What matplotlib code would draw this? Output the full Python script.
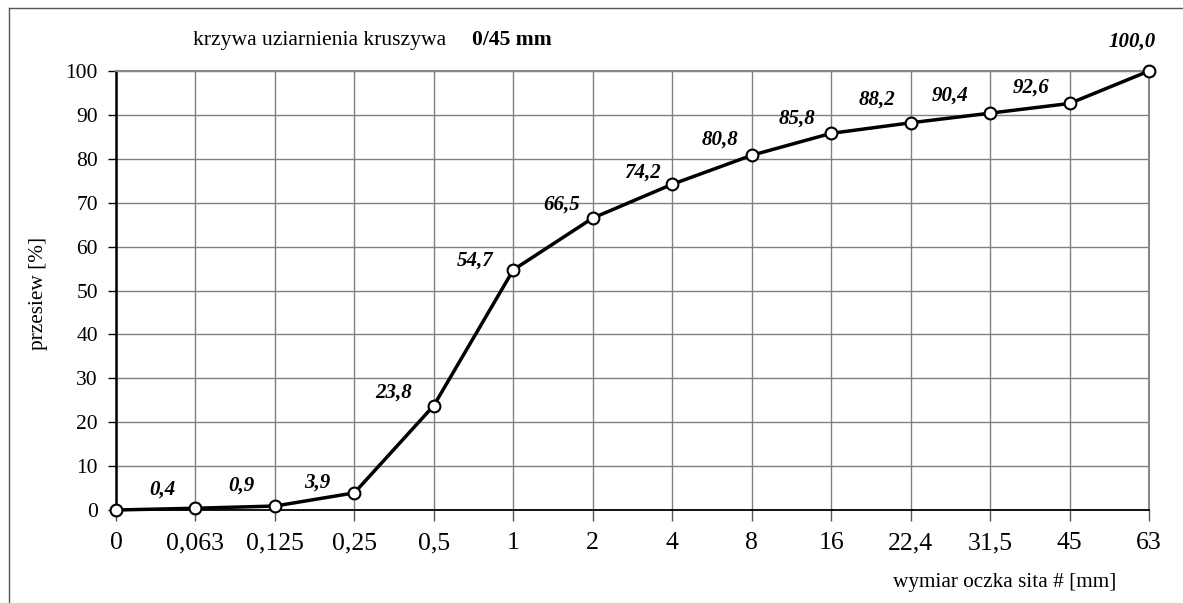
import numpy as np
import matplotlib
matplotlib.use('Agg')
import matplotlib.pyplot as plt
from matplotlib.lines import Line2D

# sieve sizes (categorical axis) and passing percentage
sieves = ['0', '0,063', '0,125', '0,25', '0,5', '1', '2', '4', '8', '16', '22,4', '31,5', '45', '63']
passing = [0.0, 0.4, 0.9, 3.9, 23.8, 54.7, 66.5, 74.2, 80.8, 85.8, 88.2, 90.4, 92.6, 100.0]
labels = ['', '0,4', '0,9', '3,9', '23,8', '54,7', '66,5', '74,2', '80,8', '85,8', '88,2', '90,4', '92,6', '100,0']
# label offsets in pixels (dx, dy)
lab_off = [(0, 0), (-33, 19), (-34, 20), (-37, 10), (-40, 13), (-38, 9), (-31, 13), (-30, 12),
           (-32, 16), (-34, 15), (-34, 23), (-40, 18), (-38, 16), (-17, 29)]

plt.rcParams['font.family'] = ['Liberation Serif', 'DejaVu Serif']

fig = plt.figure(figsize=(11.83, 6.03), dpi=100)
ax = fig.add_axes([116/1183, 1-510/603, (1149-116)/1183, (510-71)/603])

x = np.arange(len(sieves))
ax.plot(x, passing, color='black', lw=2.5, marker='o', ms=8.5, mfc='white', mec='black', mew=1.5,
        clip_on=False, zorder=5)

for i, (xi, yi) in enumerate(zip(x, passing)):
    if labels[i]:
        ax.annotate(labels[i], (xi, yi), xytext=lab_off[i], textcoords='offset pixels',
                    ha='center', va='center', fontsize=15, fontweight='bold', fontstyle='italic')

ax.set_xlim(0, len(sieves)-1)
ax.set_ylim(0, 100)
ax.set_xticks(x)
ax.set_xticklabels(sieves, fontsize=18.5)
ax.set_yticks(np.arange(0, 101, 10))
ax.tick_params(axis='y', labelsize=15.5, length=6, width=1, direction='out', pad=7)
ax.tick_params(axis='x', length=8, width=1, direction='out', pad=8, color='#555555')
ax.grid(True, color='#808080', lw=1)
ax.set_axisbelow(True)
for s in ['top', 'right']:
    ax.spines[s].set_color('#888888')
    ax.spines[s].set_linewidth(1.5)
ax.spines['left'].set_linewidth(1.8)
ax.spines['bottom'].set_linewidth(1.3)

fig.text(38/1183, 1-293/603, 'przesiew [%]', rotation=90, ha='center', va='center', fontsize=15.3)
fig.text(1005/1183, 1-583/603, 'wymiar oczka sita # [mm]', ha='center', va='center', fontsize=15.3)

fig.text(193/1183, 1-40/603, 'krzywa uziarnienia kruszywa', ha='left', va='center', fontsize=15.6)
fig.text(472/1183, 1-40/603, '0/45 mm', ha='left', va='center', fontsize=15.6, fontweight='bold')

# outer chart frame
fig.add_artist(Line2D([9/1183, 9/1183], [0, 1-8/603], transform=fig.transFigure, color='#555555', lw=1))
fig.add_artist(Line2D([9/1183, 1], [1-8/603, 1-8/603], transform=fig.transFigure, color='#555555', lw=1))

fig.savefig('out.png', dpi=100)
